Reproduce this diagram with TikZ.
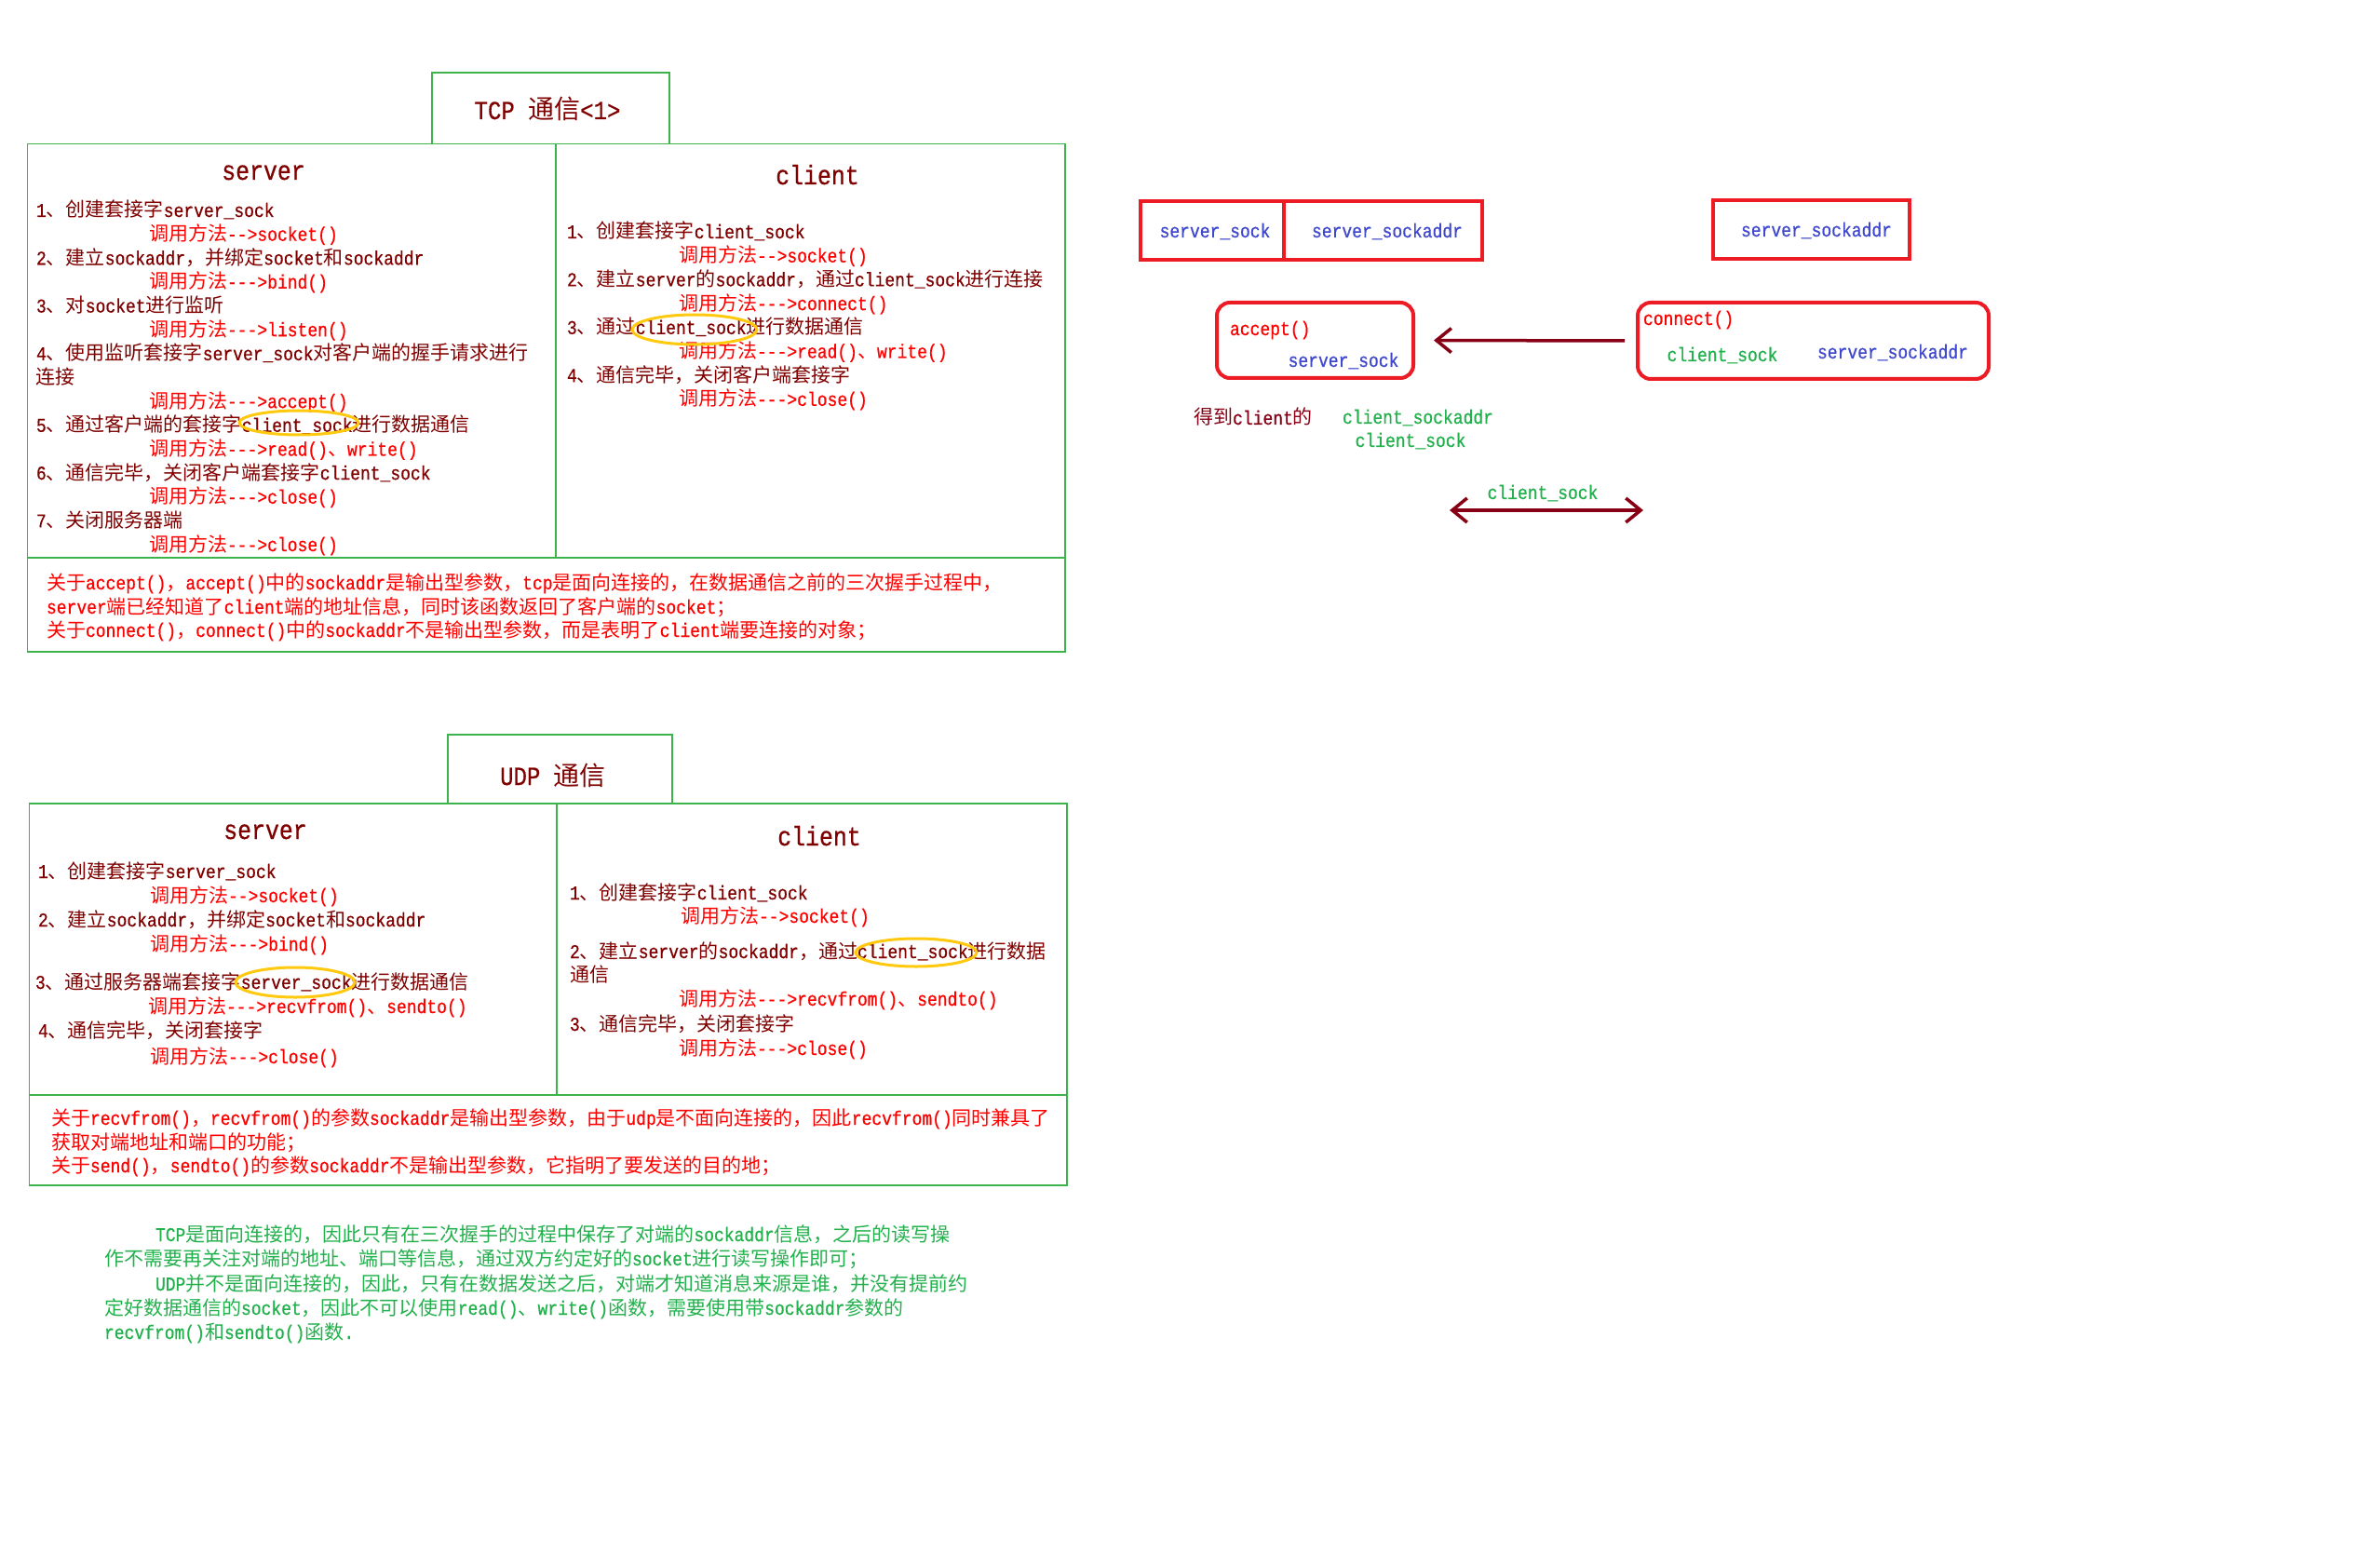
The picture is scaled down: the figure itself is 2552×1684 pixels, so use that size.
\documentclass[tikz,border=0pt]{standalone}
\usepackage{fontspec}
\usetikzlibrary{arrows.meta}

% Latin text in a half-width monospaced face, CJK text in Noto Sans CJK
\newfontfamily\latinfont{Liberation Mono}[FakeStretch=0.857,FakeBold=0.6]
\newfontfamily\cjkfont{Noto Sans CJK SC}

% switch fonts automatically between Latin and CJK runs
\XeTeXinterchartokenstate=1
\newXeTeXintercharclass\cjkclass
\makeatletter
\def\setcjkrange#1#2{%
  \count@=#1\relax
  \loop\ifnum\count@<#2\relax
    \XeTeXcharclass\count@=\cjkclass
    \advance\count@ by 1
  \repeat}
\setcjkrange{"3000}{"3040}
\setcjkrange{"4E00}{"A000}
\setcjkrange{"FF00}{"FF60}
\makeatother
\XeTeXinterchartoks 0 \cjkclass = {\cjkfont}
\XeTeXinterchartoks 4095 \cjkclass = {\cjkfont}
\XeTeXinterchartoks \cjkclass 0 = {\latinfont}
\XeTeXinterchartoks \cjkclass 4095 = {\latinfont}

\definecolor{dred}{HTML}{800000}
\definecolor{cred}{HTML}{FF0000}
\definecolor{pred}{HTML}{ED1C24}
\definecolor{pgreen}{HTML}{22B14C}
\definecolor{lgreen}{HTML}{3CB44B}
\definecolor{pblue}{HTML}{3F48CC}
\definecolor{pgold}{HTML}{FFC90E}
\definecolor{darr}{HTML}{880015}

\begin{document}
\catcode`\_=12
\begin{tikzpicture}[x=0.5pt,y=-0.5pt,
  every node/.style={inner sep=0pt, outer sep=0pt},
  tline/.style={draw=lgreen, line width=0.75pt},
  rbox/.style={draw=pred, line width=2pt},
  rrbox/.style={rbox, rounded corners=7pt},
  ring/.style={draw=pgold, line width=1.5pt},
  arr/.style={draw=darr, line width=1.75pt, -{Straight Barb[length=8pt,width=13pt]}},
  body/.style={font=\fontsize{10.5pt}{12pt}\latinfont, anchor=base west, yshift=1pt},
  lbl/.style={font=\fontsize{10.5pt}{12pt}\latinfont, anchor=base},
  head/.style={font=\fontsize{14.5pt}{16pt}\latinfont, anchor=base, text=dred},
  ttl/.style={font=\fontsize{14pt}{16pt}\latinfont, anchor=base, text=dred}]

\fill[white] (0,0) rectangle (2552,1684);
\useasboundingbox (0,0) rectangle (2552,1684);

% ---------------- TCP table ----------------
\draw[tline] (464,155) -- (464,78) -- (719,78) -- (719,155);
\draw[tline] (29.5,154.5) rectangle (1144,700);
\draw[tline] (597,154.5) -- (597,599);
\draw[tline] (29.5,599) -- (1144,599);

\node[ttl] (tcptitle) at (588,128) {TCP 通信<1>};
\node[head] (tcpserver) at (283,193) {server};
\node[head] (tcpclient) at (878,198) {client};

\foreach \Ly/\Lx/\Lc/\Lt [count=\n] in {
  235/39/dred/{1、创建套接字server_sock},
  260.6/160/cred/{调用方法-->socket()},
  286.3/39/dred/{2、建立sockaddr，并绑定socket和sockaddr},
  311.9/160/cred/{调用方法--->bind()},
  337.6/39/dred/{3、对socket进行监听},
  363.2/160/cred/{调用方法--->listen()},
  388.9/39/dred/{4、使用监听套接字server_sock对客户端的握手请求进行},
  414.5/39/dred/{连接},
  440.2/160/cred/{调用方法--->accept()},
  465.8/39/dred/{5、通过客户端的套接字client_sock进行数据通信},
  491.5/160/cred/{调用方法--->read()、write()},
  517.1/39/dred/{6、通信完毕，关闭客户端套接字client_sock},
  542.8/160/cred/{调用方法--->close()},
  568.4/39/dred/{7、关闭服务器端},
  594/160/cred/{调用方法--->close()}}
  {\node[body, text=\Lc] (ts\n) at (\Lx,\Ly) {\Lt};}

\foreach \Ly/\Lx/\Lc/\Lt [count=\n] in {
  258/609/dred/{1、创建套接字client_sock},
  283.7/729/cred/{调用方法-->socket()},
  309.4/609/dred/{2、建立server的sockaddr，通过client_sock进行连接},
  335.1/729/cred/{调用方法--->connect()},
  360.8/609/dred/{3、通过client_sock进行数据通信},
  386.5/729/cred/{调用方法--->read()、write()},
  412.2/609/dred/{4、通信完毕，关闭客户端套接字},
  437.9/729/cred/{调用方法--->close()}}
  {\node[body, text=\Lc] (tc\n) at (\Lx,\Ly) {\Lt};}

\foreach \Ly/\Lt [count=\n] in {
  635/{关于accept()，accept()中的sockaddr是输出型参数，tcp是面向连接的，在数据通信之前的三次握手过程中，},
  661/{server端已经知道了client端的地址信息，同时该函数返回了客户端的socket；},
  686/{关于connect()，connect()中的sockaddr不是输出型参数，而是表明了client端要连接的对象；}}
  {\node[body, text=cred] (tn\n) at (50,\Ly) {\Lt};}

\draw[ring] (321,454) ellipse [x radius=32pt, y radius=6.5pt];
\draw[ring] (746,354) ellipse [x radius=33.5pt, y radius=8pt];

% ---------------- UDP table ----------------
\draw[tline] (481,863) -- (481,789) -- (722,789) -- (722,863);
\draw[tline] (31.5,863) rectangle (1146,1273);
\draw[tline] (598,863) -- (598,1176);
\draw[tline] (31.5,1176) -- (1146,1176);

\node[ttl] (udptitle) at (594,843) {UDP 通信};
\node[head] (udpserver) at (285,901) {server};
\node[head] (udpclient) at (880,908) {client};

\foreach \Ly/\Lx/\Lc/\Lt [count=\n] in {
  945/41/dred/{1、创建套接字server_sock},
  971/161/cred/{调用方法-->socket()},
  997/41/dred/{2、建立sockaddr，并绑定socket和sockaddr},
  1023/161/cred/{调用方法--->bind()},
  1064/38/dred/{3、通过服务器端套接字server_sock进行数据通信},
  1090/159/cred/{调用方法--->recvfrom()、sendto()},
  1116/41/dred/{4、通信完毕，关闭套接字},
  1144/161/cred/{调用方法--->close()}}
  {\node[body, text=\Lc] (us\n) at (\Lx,\Ly) {\Lt};}

\foreach \Ly/\Lx/\Lc/\Lt [count=\n] in {
  968/612/dred/{1、创建套接字client_sock},
  993/731/cred/{调用方法-->socket()},
  1031/612/dred/{2、建立server的sockaddr，通过client_sock进行数据},
  1056/612/dred/{通信},
  1082/729/cred/{调用方法--->recvfrom()、sendto()},
  1109/612/dred/{3、通信完毕，关闭套接字},
  1135/729/cred/{调用方法--->close()}}
  {\node[body, text=\Lc] (uc\n) at (\Lx,\Ly) {\Lt};}

\foreach \Ly/\Lt [count=\n] in {
  1210/{关于recvfrom()，recvfrom()的参数sockaddr是输出型参数，由于udp是不面向连接的，因此recvfrom()同时兼具了},
  1236/{获取对端地址和端口的功能；},
  1261/{关于send()，sendto()的参数sockaddr不是输出型参数，它指明了要发送的目的地；}}
  {\node[body, text=cred] (un\n) at (55,\Ly) {\Lt};}

\draw[ring] (317,1055) ellipse [x radius=32pt, y radius=8pt];
\draw[ring] (984,1023) ellipse [x radius=32.5pt, y radius=7.5pt];

% ---------------- summary ----------------
\foreach \Ly/\Lx/\Lt [count=\n] in {
  1335/167/{TCP是面向连接的，因此只有在三次握手的过程中保存了对端的sockaddr信息，之后的读写操},
  1361/112/{作不需要再关注对端的地址、端口等信息，通过双方约定好的socket进行读写操作即可；},
  1388/167/{UDP并不是面向连接的，因此，只有在数据发送之后，对端才知道消息来源是谁，并没有提前约},
  1414/112/{定好数据通信的socket，因此不可以使用read()、write()函数，需要使用带sockaddr参数的},
  1440/112/{recvfrom()和sendto()函数.}}
  {\node[body, text=pgreen] (sm\n) at (\Lx,\Ly) {\Lt};}

% ---------------- accept / connect sketch ----------------
\node[rbox, minimum width=77.25pt, minimum height=31.5pt] (ssock) at (1301.75,247.5) {};
\node[rbox, minimum width=106.5pt, minimum height=31.5pt] (saddr) at (1485.5,247.5) {};
\node[rbox, minimum width=105.5pt, minimum height=31.5pt] (saddrb) at (1945.5,246.5) {};
\node[lbl, text=pblue] (ssockt) at (1305,255) {server_sock};
\node[lbl, text=pblue] (saddrt) at (1490,255) {server_sockaddr};
\node[lbl, text=pblue] (saddrbt) at (1951,254) {server_sockaddr};

\node[rrbox, minimum width=105.5pt, minimum height=40.5pt] (acc) at (1412.5,365.5) {};
\node[rrbox, minimum width=188.5pt, minimum height=41pt] (conn) at (1947.5,366) {};
\node[body, text=cred] (acct) at (1321,362) {accept()};
\node[lbl, text=pblue] (accsock) at (1443,394) {server_sock};
\node[body, text=cred] (connt) at (1765,351) {connect()};
\node[lbl, text=pgreen] (conncs) at (1850,388) {client_sock};
\node[lbl, text=pblue] (connsa) at (2033,385) {server_sockaddr};

\draw[arr, shorten <=7pt, shorten >=11pt] (conn.west) -- (acc.east);

\node[lbl, text=darr] (gotit) at (1346,456) {得到client的};
\node[lbl, text=pgreen] (gotaddr) at (1523,455) {client_sockaddr};
\node[lbl, text=pgreen] (gotsock) at (1515,480) {client_sock};

\node[lbl, text=pgreen] (linksock) at (1657,536) {client_sock};
\coordinate (linkl) at (1557,548);
\coordinate (linkr) at (1765,548);
\draw[arr, {Straight Barb[length=8pt,width=13pt]}-{Straight Barb[length=8pt,width=13pt]}] (linkl) -- (linkr);

\end{tikzpicture}
\end{document}
